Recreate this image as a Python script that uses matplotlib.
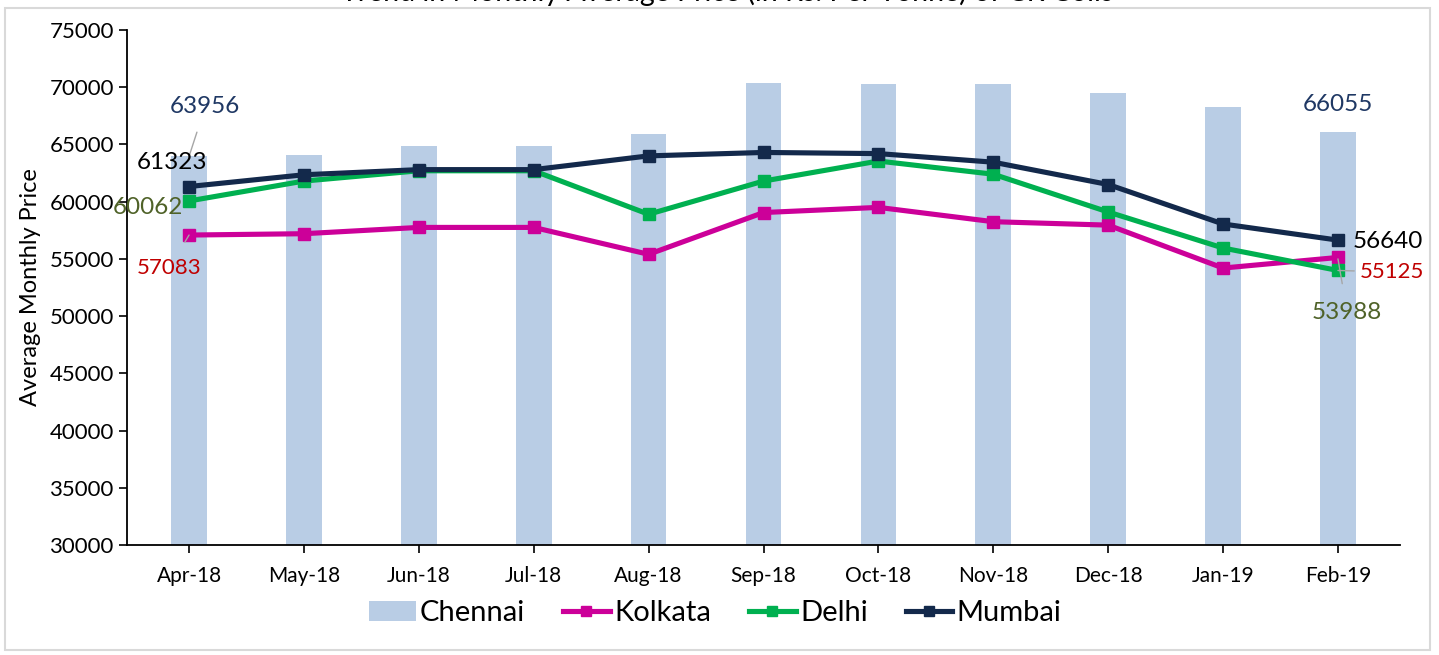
import numpy as np
import matplotlib.pyplot as plt
from matplotlib.patches import Rectangle

# data
months = ["Apr-18", "May-18", "Jun-18", "Jul-18", "Aug-18", "Sep-18",
          "Oct-18", "Nov-18", "Dec-18", "Jan-19", "Feb-19"]
chennai = [63956, 64100, 64900, 64900, 65900, 70400, 70300, 70300, 69500, 68300, 66055]
kolkata = [57083, 57200, 57750, 57750, 55400, 59050, 59500, 58250, 57950, 54200, 55125]
delhi = [60062, 61800, 62700, 62700, 58900, 61800, 63550, 62400, 59100, 55950, 53988]
mumbai = [61323, 62350, 62800, 62800, 64000, 64300, 64200, 63450, 61500, 58050, 56640]

plt.rcParams['font.family'] = ['Lato', 'DejaVu Sans']

c_chen = '#B9CDE5'
c_kol = '#CC0099'
c_del = '#00B050'
c_mum = '#13294B'

fig = plt.figure(figsize=(14.39, 6.55), dpi=100)
ax = fig.add_axes([127/1439, 110/655, 1273/1439, 515/655])

x = np.arange(len(months))
b = ax.bar(x, chennai, width=0.31, color=c_chen, label='Chennai', zorder=1)
l1, = ax.plot(x, kolkata, color=c_kol, lw=3.7, marker='s', ms=9, label='Kolkata', zorder=3)
l2, = ax.plot(x, delhi, color=c_del, lw=3.7, marker='s', ms=9, label='Delhi', zorder=3)
l3, = ax.plot(x, mumbai, color=c_mum, lw=3.7, marker='s', ms=9, label='Mumbai', zorder=4)

ax.set_ylim(30000, 75000)
ax.set_xlim(-0.54, 10.54)
ax.set_yticks(np.arange(30000, 75001, 5000))
ax.set_xticks(x)
ax.set_xticklabels(months, fontsize=15)
ax.tick_params(axis='y', labelsize=16, length=6, width=1.2, direction='out')
ax.tick_params(axis='x', length=6, width=1.2, direction='out', pad=9)
ax.set_ylabel('Average Monthly Price', fontsize=17, labelpad=6)
for s in ['top', 'right']:
    ax.spines[s].set_visible(False)
for s in ['left', 'bottom']:
    ax.spines[s].set_linewidth(1.3)

# labels first / last month
lc = '#A6A6A6'
ax.annotate(f"{chennai[0]}", xy=(0, chennai[0]), xytext=(0.14, 68272), color='#1F3864',
            fontsize=17.5, ha='center', va='center',
            arrowprops=dict(arrowstyle='-', color=lc, lw=1, shrinkA=9, shrinkB=0))
ax.text(-0.15, 63379, f"{mumbai[0]}", color='black', fontsize=17.5, ha='center', va='center')
ax.text(-0.36, 59447, f"{delhi[0]}", color='#4F6228', fontsize=17.5, ha='center', va='center')
ax.annotate(f"{kolkata[0]}", xy=(0, kolkata[0]), xytext=(-0.17, 54204), color='#C00000',
            fontsize=16, ha='center', va='center',
            arrowprops=dict(arrowstyle='-', color=lc, lw=1, shrinkA=11, shrinkB=0))

ax.text(10.0, 68447, f"{chennai[-1]}", color='#1F3864', fontsize=17.5, ha='center', va='center')
ax.text(10.13, 56476, f"{mumbai[-1]}", color='black', fontsize=17.5, ha='left', va='center')
ax.annotate(f"{kolkata[-1]}", xy=(10, 53988), xytext=(10.19, 53854), color='#C00000',
            fontsize=16, ha='left', va='center',
            arrowprops=dict(arrowstyle='-', color=lc, lw=1, shrinkA=2, shrinkB=0))
ax.annotate(f"{delhi[-1]}", xy=(10, 55000), xytext=(10.08, 50359), color='#4F6228',
            fontsize=17.5, ha='center', va='center',
            arrowprops=dict(arrowstyle='-', color=lc, lw=1, shrinkA=11, shrinkB=0))

fig.legend([b, l1, l2, l3], ['Chennai', 'Kolkata', 'Delhi', 'Mumbai'],
           loc='center', bbox_to_anchor=(0.497, 0.064), ncol=4, frameon=False,
           fontsize=21, handlelength=1.6, handletextpad=0.15, columnspacing=1.3,
           markerscale=0.8)

fig.text(0.505, 1 - 1/655, "Trend in Monthly Average Price (in Rs. Per Tonne) of CR Coils",
         ha='center', va='baseline', fontsize=20.5)

fig.patches.append(Rectangle((5/1439, 5/655), 1425/1439, 642/655, transform=fig.transFigure,
                             fill=False, edgecolor='#D9D9D9', lw=1.5))

fig.savefig('out.png', dpi=100)
